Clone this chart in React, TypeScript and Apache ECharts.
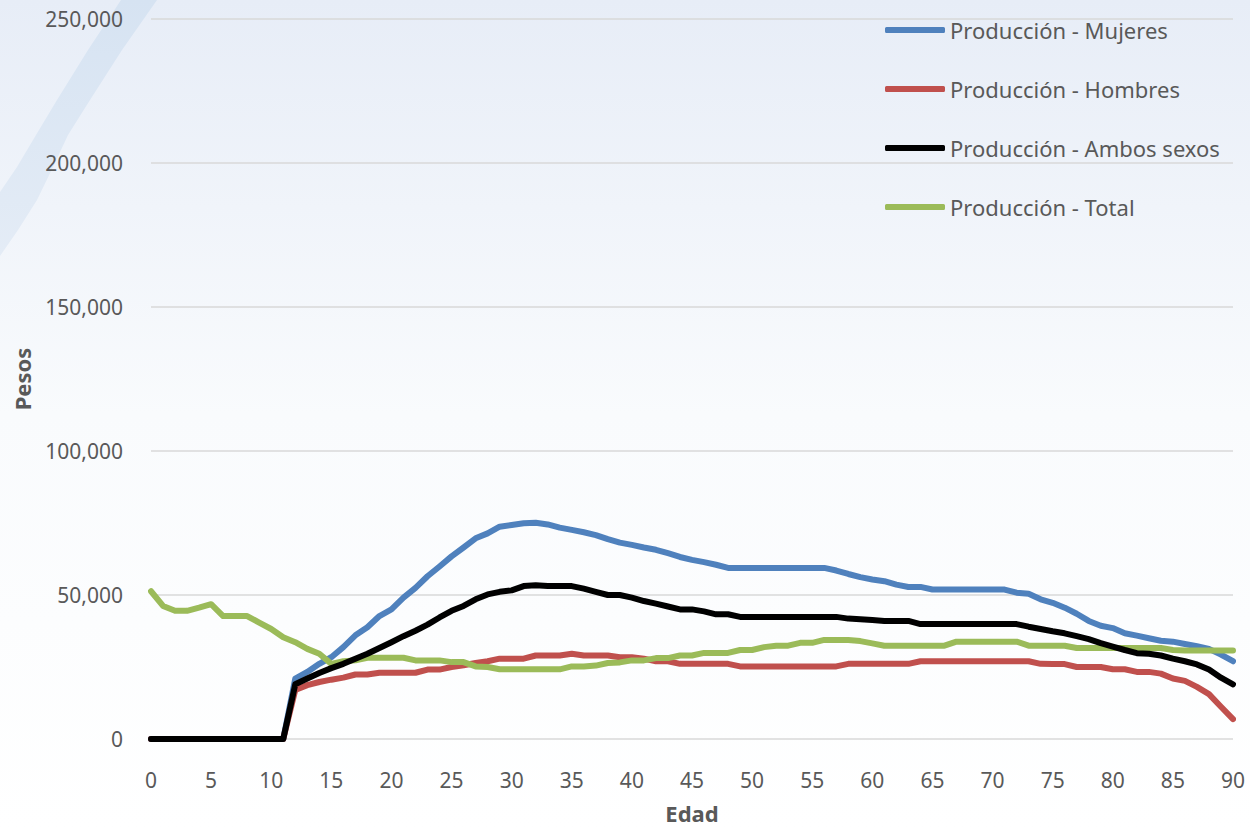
import React, { useEffect, useRef } from "react";
import * as echarts from "echarts";

const ages: number[] = Array.from({ length: 91 }, (_, i) => i);

const mujeres: number[] = [
  0, 0, 0, 0, 0, 0, 0, 0, 0, 0, 0, 0,
  21000, 23300, 26100, 28400, 31900, 36000, 38800, 42700, 45000, 49100,
  52500, 56500, 59900, 63400, 66500, 69700, 71400, 73700, 74300, 74900,
  75100, 74500, 73400, 72600, 71800, 70800, 69400, 68200, 67400, 66500,
  65700, 64500, 63200, 62200, 61400, 60500, 59400, 59400, 59400, 59400,
  59400, 59400, 59400, 59400, 59400, 58500, 57300, 56200, 55400, 54800,
  53600, 52800, 52800, 51900, 51900, 51900, 51900, 51900, 51900, 51900,
  50800, 50400, 48500, 47300, 45600, 43500, 41000, 39300, 38500, 36700,
  35900, 35000, 34100, 33800, 33000, 32200, 31300, 29300, 27000,
];

const hombres: number[] = [
  0, 0, 0, 0, 0, 0, 0, 0, 0, 0, 0, 0,
  17000, 18700, 19800, 20600, 21300, 22400, 22400, 23000, 23000, 23000,
  23000, 24100, 24100, 25000, 25600, 26400, 27000, 27900, 27900, 27900,
  29000, 29000, 29000, 29600, 29000, 29000, 29000, 28400, 28400, 27900,
  27000, 27000, 26100, 26100, 26100, 26100, 26100, 25200, 25200, 25200,
  25200, 25200, 25200, 25200, 25200, 25200, 26100, 26100, 26100, 26100,
  26100, 26100, 27000, 27000, 27000, 27000, 27000, 27000, 27000, 27000,
  27000, 27000, 26100, 26000, 26000, 25000, 25000, 25000, 24200, 24200,
  23300, 23300, 22700, 21000, 20200, 18100, 15600, 11200, 6900,
];

const ambos: number[] = [
  0, 0, 0, 0, 0, 0, 0, 0, 0, 0, 0, 0,
  19000, 21000, 22900, 24600, 26100, 27900, 29600, 31600, 33600, 35700,
  37600, 39700, 42200, 44500, 46200, 48500, 50200, 51100, 51600, 53100,
  53400, 53100, 53100, 53100, 52200, 51100, 50000, 50000, 49100, 47900,
  47000, 46000, 45000, 45000, 44300, 43300, 43300, 42400, 42400, 42400,
  42400, 42400, 42400, 42400, 42400, 42400, 41800, 41600, 41300, 41000,
  41000, 41000, 39900, 39900, 39900, 39900, 39900, 39900, 39900, 39900,
  39900, 39000, 38200, 37400, 36700, 35700, 34700, 33300, 32100, 30900,
  29800, 29600, 29000, 27900, 27000, 25900, 24100, 21300, 19000,
];

const total: number[] = [
  51300, 46200, 44500, 44500, 45600, 46800, 42700, 42700, 42700, 40400,
  38200, 35300, 33600, 31300, 29600, 26100, 27000, 27300, 28200, 28200,
  28200, 28200, 27300, 27300, 27300, 26700, 26700, 25200, 25000, 24200,
  24200, 24200, 24200, 24200, 24200, 25200, 25200, 25500, 26400, 26600,
  27300, 27300, 28100, 28100, 29000, 29000, 29900, 29900, 29900, 30900,
  30900, 31900, 32400, 32400, 33400, 33400, 34400, 34400, 34400, 34000,
  33200, 32400, 32400, 32400, 32400, 32400, 32400, 33800, 33800, 33800,
  33800, 33800, 33800, 32400, 32400, 32400, 32400, 31600, 31600, 31600,
  31600, 31600, 31600, 31600, 31600, 30900, 30700, 30700, 30700, 30700, 30700,
];

const seriesNames: string[] = [
  "Producción - Mujeres",
  "Producción - Hombres",
  "Producción - Ambos sexos",
  "Producción - Total",
];
const seriesColors: string[] = ["#4f81bd", "#c0504d", "#000000", "#9bbb59"];
const seriesValues: number[][] = [mujeres, hombres, ambos, total];

const FONT = "'Noto Sans', sans-serif";
const TEXT = "#595959";

function fmt(v: number): string {
  return String(v).replace(/\B(?=(\d{3})+(?!\d))/g, ",");
}

export default function App() {
  const ref = useRef<HTMLDivElement>(null);
  useEffect(() => {
    if (!ref.current) return;
    const chart = echarts.init(ref.current, undefined, { renderer: "svg" });
    chart.setOption({
      animation: false,
      backgroundColor: new echarts.graphic.LinearGradient(0, 0, 0, 1, [
        { offset: 0, color: "#e7edf7" },
        { offset: 0.5, color: "#f9fbfd" },
        { offset: 1, color: "#ffffff" },
      ]),
      graphic: [
        {
          type: "polygon",
          z: -10,
          silent: true,
          shape: {
            points: [
              [157, 0], [122, 50], [90, 100], [68, 135], [53, 167], [37, 200], [18, 230], [0, 256],
              [0, 192], [17, 167], [36, 135], [57, 100], [88, 50], [121, 0],
            ],
          },
          style: {
            fill: new echarts.graphic.LinearGradient(0, 0, 0, 1, [
              { offset: 0, color: "#d6e3f2" },
              { offset: 1, color: "#e4ecf6" },
            ]),
          },
        },
      ],
      grid: { left: 151, right: 17, top: 19, bottom: 83 },
      legend: {
        orient: "vertical",
        left: 880,
        top: 14,
        icon: "roundRect",
        itemWidth: 60,
        itemHeight: 6,
        itemGap: 37,
        textStyle: { fontFamily: FONT, fontSize: 22, color: TEXT, lineHeight: 21 },
        data: seriesNames.map((n, i) => ({ name: n, itemStyle: { color: seriesColors[i] } })),
      },
      xAxis: {
        type: "value",
        min: 0,
        max: 90,
        interval: 5,
        name: "Edad",
        nameLocation: "middle",
        nameGap: 63,
        nameTextStyle: { fontFamily: FONT, fontSize: 22, fontWeight: "bold", color: TEXT },
        axisLine: { show: false },
        axisTick: { show: false },
        splitLine: { show: false },
        axisLabel: { fontFamily: FONT, fontSize: 21, color: TEXT, margin: 30 },
      },
      yAxis: {
        type: "value",
        min: 0,
        max: 250000,
        interval: 50000,
        name: "Pesos",
        nameLocation: "middle",
        nameGap: 118,
        nameTextStyle: { fontFamily: FONT, fontSize: 22, fontWeight: "bold", color: TEXT },
        axisLine: { show: false },
        axisTick: { show: false },
        splitLine: { lineStyle: { color: "#d9d9d9", width: 1.5 } },
        axisLabel: {
          fontFamily: FONT,
          fontSize: 21,
          color: TEXT,
          margin: 28,
          formatter: (v: number) => fmt(v),
        },
      },
      series: seriesNames.map((name, i) => ({
        name,
        type: "line",
        symbol: "none",
        showSymbol: false,
        data: ages.map((a, j) => [a, seriesValues[i][j]]),
        lineStyle: { color: seriesColors[i], width: 6, cap: "round", join: "round" },
        itemStyle: { color: seriesColors[i] },
        z: 2 + (i === 2 ? 1 : 0),
      })),
    });
    return () => chart.dispose();
  }, []);
  return (
    <div
      ref={ref}
      style={{ position: "absolute", left: 0, top: 0, width: 1250, height: 829 }}
    />
  );
}
